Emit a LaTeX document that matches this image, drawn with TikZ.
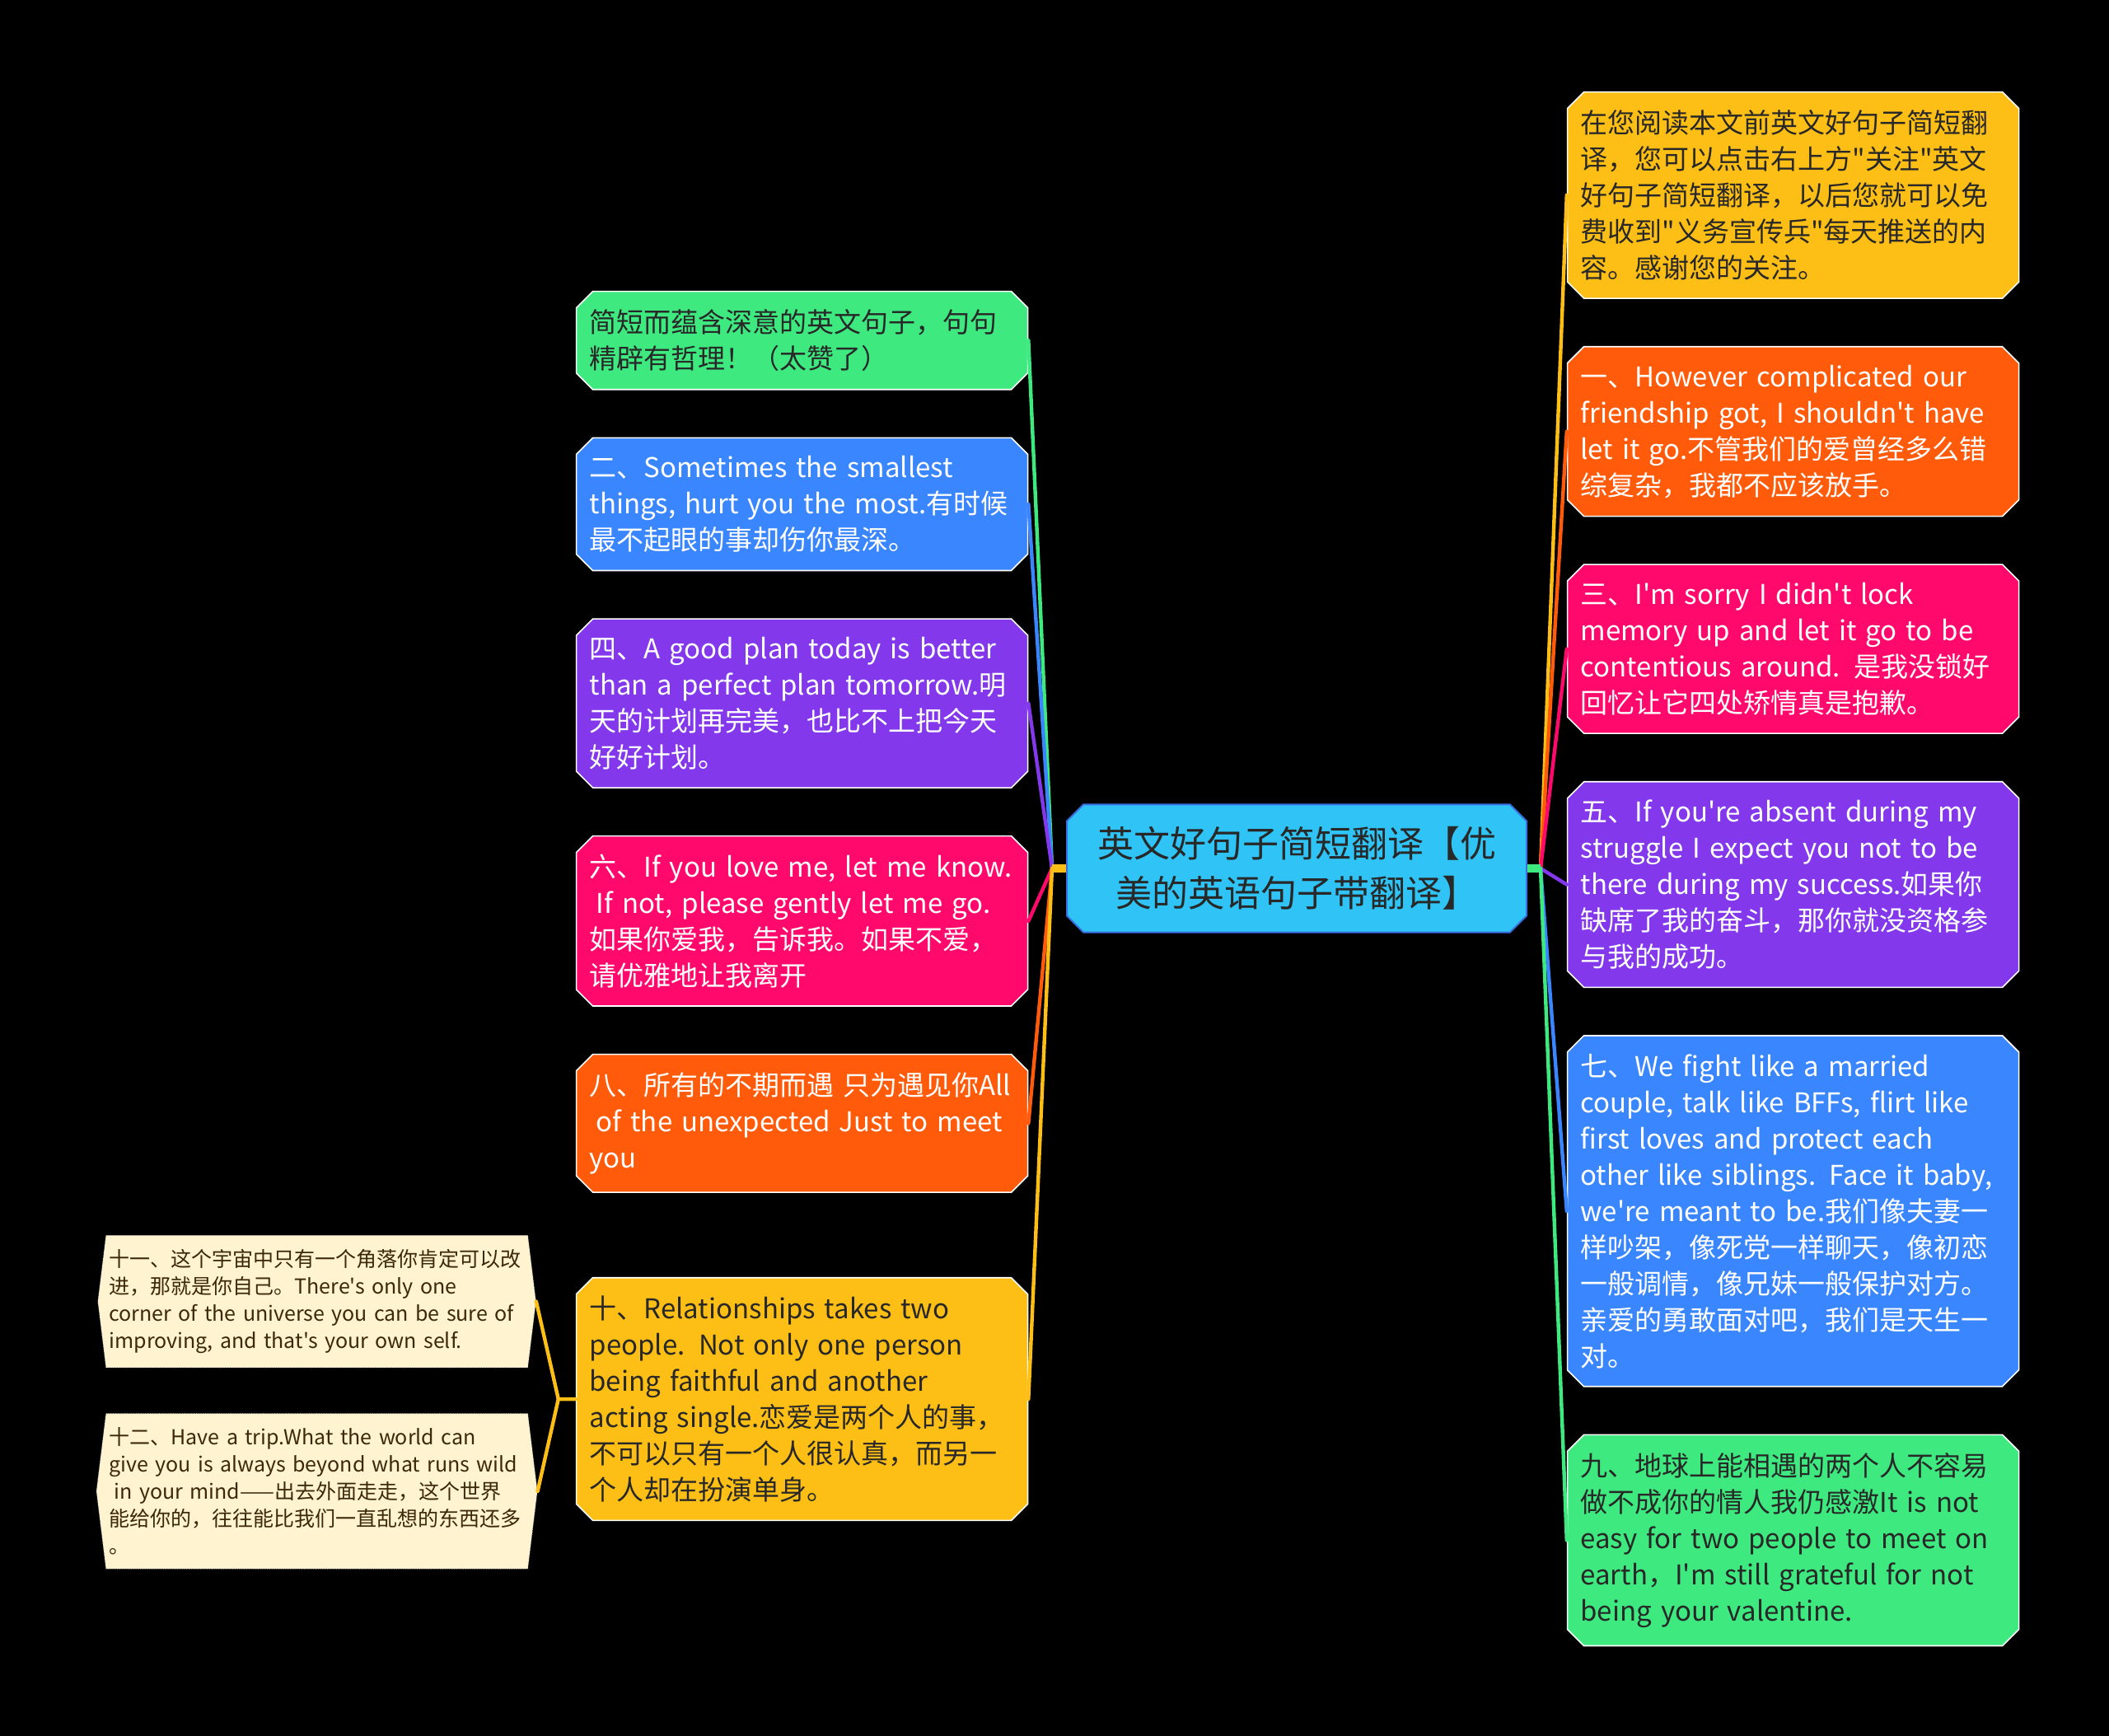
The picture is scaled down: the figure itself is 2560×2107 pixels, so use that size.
\documentclass[tikz,border=0pt]{standalone}
\usepackage{fontspec}
\usepackage{xcolor}
\usepackage{tikz}
\usetikzlibrary{shapes.misc, shapes.symbols, positioning, calc}
\newfontfamily\cjkfont{Noto Sans CJK SC}
\definecolor{mmyellow}{RGB}{253, 190, 22}
\definecolor{mmorange}{RGB}{255, 91, 10}
\definecolor{mmpink}{RGB}{255, 10, 108}
\definecolor{mmpurple}{RGB}{131, 56, 236}
\definecolor{mmblue}{RGB}{58, 134, 255}
\definecolor{mmgreen}{RGB}{62, 234, 128}
\definecolor{mmcyan}{RGB}{47, 196, 245}
\definecolor{mmcyanline}{RGB}{58, 110, 224}
\definecolor{mmcream}{RGB}{255, 243, 208}
\definecolor{mmdark}{RGB}{40, 40, 40}
\definecolor{mmbrown}{RGB}{60, 40, 10}
\tikzset{
    root/.style = {chamfered rectangle, chamfered rectangle xsep=5pt, chamfered rectangle ysep=5pt, draw=mmcyanline, fill=mmcyan, line width=1pt, text=mmdark, text width=250pt, align=center, inner xsep=9.5pt, inner ysep=8.5pt, font=\cjkfont\fontsize{22pt}{30pt}\selectfont},
    topic/.style = {chamfered rectangle, chamfered rectangle xsep=5pt, chamfered rectangle ysep=5pt, draw=white, line width=0.8pt, text=white, text width=258pt, align=left, inner xsep=3pt, inner ysep=6pt, font=\cjkfont\fontsize{16.5pt}{22pt}\selectfont},
    darktopic/.style = {topic, text=mmdark},
    leaf/.style = {signal, signal to=west and east, signal pointer angle=166, draw=gray!70, densely dotted, fill=mmcream, text=mmbrown, text width=252pt, align=left, inner xsep=2pt, inner ysep=8.5pt, font=\cjkfont\fontsize{12.5pt}{16.5pt}\selectfont},
    branch/.style = {line width=2.2pt, line cap=round, line join=round},
    stub/.style = {line width=5pt}
}
\begin{document}
\begin{tikzpicture}[x=0.5pt, y=0.5pt, node distance=28.5pt]
\fill [black] (0,0) rectangle (2560,-2107);

\node (title) [root] at (1574,-1054) {英文好句子简短翻译【优\\美的英语句子带翻译】};

\node (R1) [darktopic, fill=mmyellow, anchor=north west] at (1912,-121) {在您阅读本文前英文好句子简短翻\\译，您可以点击右上方"关注"英文\\好句子简短翻译，以后您就可以免\\费收到"义务宣传兵"每天推送的内\\容。感谢您的关注。};
\node (R2) [topic, fill=mmorange, below=of R1] {一、However complicated our\\friendship got, I shouldn't have\\let it go.不管我们的爱曾经多么错\\综复杂，我都不应该放手。};
\node (R3) [topic, fill=mmpink, below=of R2] {三、I'm sorry I didn't lock\\memory up and let it go to be\\contentious around. 是我没锁好\\回忆让它四处矫情真是抱歉。};
\node (R4) [topic, fill=mmpurple, below=of R3] {五、If you're absent during my\\struggle I expect you not to be\\there during my success.如果你\\缺席了我的奋斗，那你就没资格参\\与我的成功。};
\node (R5) [topic, fill=mmblue, below=of R4] {七、We fight like a married\\couple, talk like BFFs, flirt like\\first loves and protect each\\other like siblings. Face it baby,\\we're meant to be.我们像夫妻一\\样吵架，像死党一样聊天，像初恋\\一般调情，像兄妹一般保护对方。\\亲爱的勇敢面对吧，我们是天生一\\对。};
\node (R6) [darktopic, fill=mmgreen, below=of R5] {九、地球上能相遇的两个人不容易\\做不成你的情人我仍感激It is not\\easy for two people to meet on\\earth，I'm still grateful for not\\being your valentine.};

\node (L1) [darktopic, fill=mmgreen, anchor=north west] at (709,-363) {简短而蕴含深意的英文句子，句句\\精辟有哲理！（太赞了）};
\node (L2) [topic, fill=mmblue, below=of L1] {二、Sometimes the smallest\\things, hurt you the most.有时候\\最不起眼的事却伤你最深。};
\node (L3) [topic, fill=mmpurple, below=of L2] {四、A good plan today is better\\than a perfect plan tomorrow.明\\天的计划再完美，也比不上把今天\\好好计划。};
\node (L4) [topic, fill=mmpink, below=of L3] {六、If you love me, let me know.\\\hspace*{0.25em}If not, please gently let me go.\\如果你爱我，告诉我。如果不爱，\\请优雅地让我离开};
\node (L5) [topic, fill=mmorange, below=of L4] {八、所有的不期而遇 只为遇见你All\\\hspace*{0.25em}of the unexpected Just to meet\\you};
\node (L6) [darktopic, fill=mmyellow, below=51pt of L5] {十、Relationships takes two\\people. Not only one person\\being faithful and another\\acting single.恋爱是两个人的事，\\不可以只有一个人很认真，而另一\\个人却在扮演单身。};

\node (F1) [leaf, anchor=north east] at (641,-1499) {十一、这个宇宙中只有一个角落你肯定可以改\\进，那就是你自己。There's only one\\corner of the universe you can be sure of\\improving, and that's your own self.};
\node (F2) [leaf, below=27.5pt of F1] {十二、Have a trip.What the world can\\give you is always beyond what runs wild\\\hspace*{0.25em}in your mind——出去外面走走，这个世界\\能给你的，往往能比我们一直乱想的东西还多\\。};

\coordinate (lhub) at ($(title.west)+(-17,0)$);
\coordinate (rhub) at ($(title.east)+(16,0)$);
\coordinate (fhub) at ($(L6.west)+(-21,0)$);

\draw [branch, mmgreen] (lhub) -- (L1.east);
\draw [branch, mmblue] (lhub) -- (L2.east);
\draw [branch, mmpurple] (lhub) -- (L3.east);
\draw [branch, mmpink] (lhub) -- (L4.east);
\draw [branch, mmorange] (lhub) -- (L5.east);
\draw [branch, mmyellow] (lhub) -- (L6.east);
\draw [stub, mmyellow] (title.west) -- (lhub);
\draw [branch, mmyellow] (rhub) -- (R1.west);
\draw [branch, mmorange] (rhub) -- (R2.west);
\draw [branch, mmpink] (rhub) -- (R3.west);
\draw [branch, mmpurple] (rhub) -- (R4.west);
\draw [branch, mmblue] (rhub) -- (R5.west);
\draw [branch, mmgreen] (rhub) -- (R6.west);
\draw [stub, mmgreen] (title.east) -- (rhub);
\draw [branch, mmyellow] (L6.west) -- (fhub) -- (F1.east);
\draw [branch, mmyellow] (fhub) -- (F2.east);
\end{tikzpicture}
\end{document}
